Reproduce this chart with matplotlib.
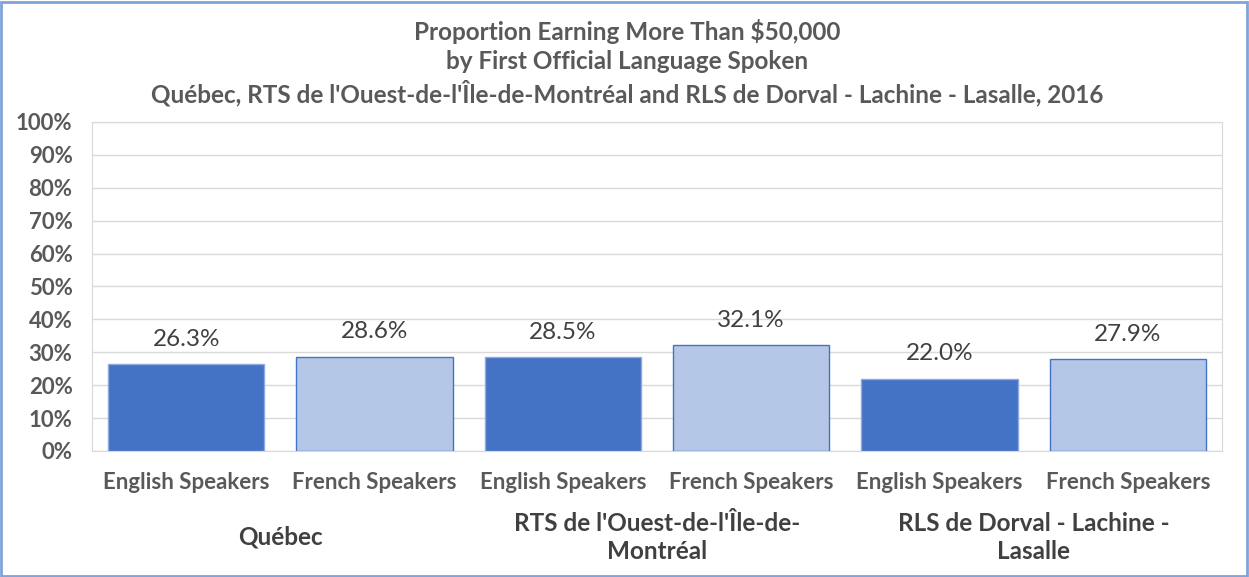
import matplotlib.pyplot as plt
import matplotlib.transforms as mtransforms
from matplotlib.patches import Rectangle

plt.rcParams['font.family'] = ['Lato', 'DejaVu Sans']

# --- Data ---
categories = ['English Speakers', 'French Speakers'] * 3
groups = ['Québec', "RTS de l'Ouest-de-l'Île-de-\nMontréal", 'RLS de Dorval - Lachine -\nLasalle']
values = [26.3, 28.6, 28.5, 32.1, 22.0, 27.9]
yticks = list(range(0, 101, 10))

dark = '#4472C4'
light = '#B4C7E7'
colors = [dark, light] * 3
edges = ['#8FAADC', dark] * 3

fig = plt.figure(figsize=(12.49, 5.77), dpi=100)
ax = fig.add_axes([0.0737, 0.2184, 0.9047, 0.5702])

x = list(range(len(values)))
ax.bar(x, values, width=0.83, color=colors, edgecolor=edges, linewidth=1, zorder=3)
for xi, v in zip(x, values):
    ax.annotate(f'{v:.1f}%', (xi, v), xytext=(0, 18), textcoords='offset points',
                ha='center', va='center', fontsize=17.5, color='#404040', zorder=4)

ax.set_xlim(-0.5, len(values) - 0.5)
ax.set_ylim(0, 100)
ax.set_yticks(yticks)
ax.set_yticklabels([f'{t}%' for t in yticks], fontsize=16, fontweight='bold', color='#595959')
ax.tick_params(axis='y', length=0, pad=14)
ax.set_xticks([])
ax.grid(axis='y', color='#D9D9D9', linewidth=1, zorder=0)
for s in ax.spines.values():
    s.set_color('#D9D9D9')

trans = mtransforms.blended_transform_factory(ax.transData, ax.transAxes)
for xi, c in zip(x, categories):
    ax.text(xi, -0.097, c, transform=trans, ha='center', va='center',
            fontsize=16, color='#595959', fontweight='bold')
for gi, g in enumerate(groups):
    ax.text(2 * gi + 0.5, -0.262, g, transform=trans, ha='center', va='center',
            fontsize=17.5, color='#404040', fontweight='bold', linespacing=1.25)

title = ('Proportion Earning More Than $50,000\n'
         'by First Official Language Spoken\n'
         "Québec, RTS de l'Ouest-de-l'Île-de-Montréal and RLS de Dorval - Lachine - Lasalle, 2016")
fig.text(0.502, 0.891, title, ha='center', va='center', fontsize=17.5,
         fontweight='bold', color='#595959', linespacing=1.3)

fig.patches.append(Rectangle((0.001, 0.002), 0.997, 0.995, transform=fig.transFigure,
                             fill=False, edgecolor='#7FA3DA', linewidth=2))

plt.savefig('out.png', dpi=100)
